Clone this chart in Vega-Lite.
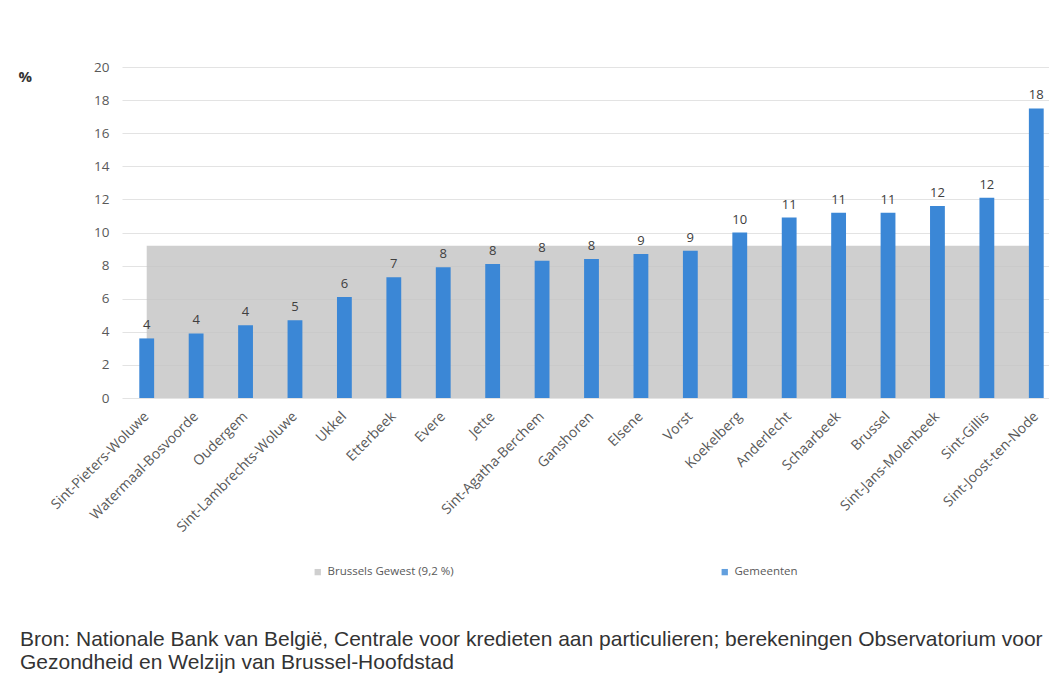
{
  "$schema": "https://vega.github.io/schema/vega-lite/v6.json",
  "autosize": {"type": "none"},
  "width": 927,
  "height": 331,
  "padding": {"left": 122, "top": 67, "right": 0, "bottom": 277},
  "background": "white",
  "config": {
    "view": {"stroke": null},
    "font": "Open Sans",
    "axisY": {
      "title": "%",
      "titleAngle": 0,
      "titleX": -104,
      "titleY": 9,
      "titleAlign": "left",
      "titleBaseline": "middle",
      "titleFontSize": 15,
      "titleFontWeight": "bold",
      "titleColor": "#333333",
      "labelOverlap": false,
      "labelFontSize": 13.5,
      "labelColor": "#595959",
      "labelPadding": 13,
      "ticks": false,
      "domain": false,
      "grid": true,
      "gridColor": "#e3e3e3",
      "gridWidth": 1
    }
  },
  "title": {
    "text": ["Bron: Nationale Bank van België, Centrale voor kredieten aan particulieren; berekeningen Observatorium voor", "Gezondheid en Welzijn van Brussel-Hoofdstad"],
    "orient": "bottom",
    "anchor": "start",
    "frame": "group",
    "dx": -102,
    "offset": 51,
    "font": "Liberation Sans",
    "fontSize": 21,
    "fontWeight": "normal",
    "color": "#333333",
    "lineHeight": 23
  },
  "data": {
    "values": [
      {"gemeente": "Sint-Pieters-Woluwe", "pct": 3.6, "gewest": 9.2},
      {"gemeente": "Watermaal-Bosvoorde", "pct": 3.9, "gewest": 9.2},
      {"gemeente": "Oudergem", "pct": 4.4, "gewest": 9.2},
      {"gemeente": "Sint-Lambrechts-Woluwe", "pct": 4.7, "gewest": 9.2},
      {"gemeente": "Ukkel", "pct": 6.1, "gewest": 9.2},
      {"gemeente": "Etterbeek", "pct": 7.3, "gewest": 9.2},
      {"gemeente": "Evere", "pct": 7.9, "gewest": 9.2},
      {"gemeente": "Jette", "pct": 8.1, "gewest": 9.2},
      {"gemeente": "Sint-Agatha-Berchem", "pct": 8.3, "gewest": 9.2},
      {"gemeente": "Ganshoren", "pct": 8.4, "gewest": 9.2},
      {"gemeente": "Elsene", "pct": 8.7, "gewest": 9.2},
      {"gemeente": "Vorst", "pct": 8.9, "gewest": 9.2},
      {"gemeente": "Koekelberg", "pct": 10.0, "gewest": 9.2},
      {"gemeente": "Anderlecht", "pct": 10.9, "gewest": 9.2},
      {"gemeente": "Schaarbeek", "pct": 11.2, "gewest": 9.2},
      {"gemeente": "Brussel", "pct": 11.2, "gewest": 9.2},
      {"gemeente": "Sint-Jans-Molenbeek", "pct": 11.6, "gewest": 9.2},
      {"gemeente": "Sint-Gillis", "pct": 12.1, "gewest": 9.2},
      {"gemeente": "Sint-Joost-ten-Node", "pct": 17.5, "gewest": 9.2}
    ]
  },
  "encoding": {
    "x": {
      "field": "gemeente",
      "type": "nominal",
      "sort": null,
      "scale": {"range": [0, 939], "paddingInner": 0.7, "paddingOuter": 0.35},
      "axis": {
        "title": null,
        "labelAngle": -45,
        "labelAlign": "right",
        "labelBaseline": "middle",
        "labelPadding": 16,
        "labelDx": 4,
        "labelFontSize": 14,
        "labelColor": "#595959",
        "labelFont": "Open Sans",
        "labelOverlap": false,
        "ticks": false,
        "domain": false,
        "grid": false
      }
    }
  },
  "layer": [
    {
      "mark": {"type": "area", "opacity": 0.8},
      "encoding": {
        "y": {
          "field": "gewest",
          "type": "quantitative",
          "title": "%",
          "scale": {"domain": [0, 20], "nice": false},
          "axis": {"values": [0, 2, 4, 6, 8, 10, 12, 14, 16, 18, 20]}
        },
        "color": {
          "datum": "Brussels Gewest (9,2 %)",
          "type": "nominal",
          "scale": {
            "domain": ["Brussels Gewest (9,2 %)", "Gemeenten"],
            "range": ["#c3c3c3", "#3b87d6"]
          },
          "legend": {
            "title": null,
            "orient": "none",
            "legendX": 190,
            "legendY": 499,
            "direction": "horizontal",
            "symbolType": "square",
            "symbolSize": 40,
            "labelFontSize": 11.5,
            "labelColor": "#595959",
            "labelFont": "Open Sans",
            "columnPadding": 265,
            "labelOffset": 4
          }
        }
      }
    },
    {
      "mark": {"type": "bar"},
      "encoding": {
        "y": {"field": "pct", "type": "quantitative", "title": "%", "axis": {"values": [0, 2, 4, 6, 8, 10, 12, 14, 16, 18, 20]}},
        "color": {"datum": "Gemeenten", "type": "nominal"}
      }
    },
    {
      "mark": {"type": "text", "baseline": "bottom", "dy": -6, "fontSize": 13, "color": "#404040", "font": "Open Sans"},
      "encoding": {
        "y": {"field": "pct", "type": "quantitative", "title": "%", "axis": {"values": [0, 2, 4, 6, 8, 10, 12, 14, 16, 18, 20]}},
        "text": {"field": "pct", "type": "quantitative", "format": ".0f"}
      }
    }
  ]
}
